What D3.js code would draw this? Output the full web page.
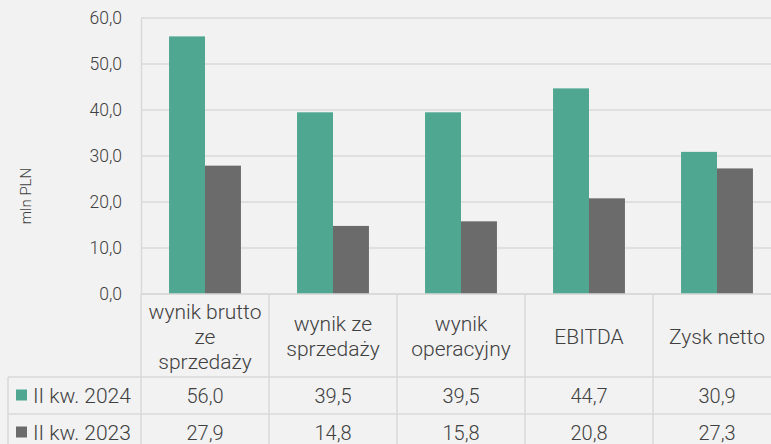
<!DOCTYPE html>
<html>
<head>
<meta charset="utf-8">
<script src="https://cdn.jsdelivr.net/npm/d3@7"></script>
<style>
    html, body { margin: 0; padding: 0; background: #f2f2f2; }
    svg { display: block; font-family: Roboto, "Open Sans", sans-serif; font-weight: 300; }
</style>
</head>
<body>
<div id="chart"></div>
<script>
// dane z wykresu
const categories = [
    ["wynik brutto", "ze", "sprzedaży"],
    ["wynik ze", "sprzedaży"],
    ["wynik", "operacyjny"],
    ["EBITDA"],
    ["Zysk netto"]
];
const seriesNames = ["II kw. 2024", "II kw. 2023"];
const values2024 = [56.0, 39.5, 39.5, 44.7, 30.9];
const values2023 = [27.9, 14.8, 15.8, 20.8, 27.3];
const yTicks = [0, 10, 20, 30, 40, 50, 60];
const colors = ["#4fa791", "#6b6b6b"];

const width = 771, height = 444;
const plot = { left: 141, right: 781, top: 18, bottom: 294 };
const headerH = 83, rowH = 37, legendLeft = 8;
const gridColor = "#d9d9d9", textColor = "#404040";

const fmt = v => v.toFixed(1).replace(".", ",");
const series = [values2024, values2023];
const keys = categories.map(c => c.join(" "));

const svg = d3.select("#chart").append("svg")
    .attr("width", width)
    .attr("height", height);

const x = d3.scaleBand().domain(keys).range([plot.left, plot.right]).padding(0);
const x1 = d3.scaleBand().domain(seriesNames).range([0, x.bandwidth()]).paddingInner(0).paddingOuter(0.78);
const y = d3.scaleLinear().domain([0, 60]).range([plot.bottom, plot.top]);

// linie siatki
svg.append("g")
    .selectAll("line")
    .data(yTicks)
    .enter()
    .append("line")
    .attr("x1", plot.left)
    .attr("x2", width)
    .attr("y1", d => y(d))
    .attr("y2", d => y(d))
    .attr("stroke", gridColor)
    .attr("stroke-width", 1.5);

// oś Y
const yAxis = svg.append("g")
    .attr("transform", `translate(${plot.left},0)`)
    .call(d3.axisLeft(y).tickValues(yTicks).tickFormat(fmt).tickSize(0).tickPadding(19));
yAxis.select(".domain")
    .attr("stroke", gridColor)
    .attr("stroke-width", 1.5);
yAxis.selectAll("text")
    .attr("fill", textColor)
    .style("font-size", "17.5px")
    .style("font-family", "Roboto, sans-serif")
    .style("font-weight", 300);

svg.append("text")
    .attr("transform", "translate(31,196) rotate(-90)")
    .attr("text-anchor", "middle")
    .attr("fill", textColor)
    .style("font-size", "15px")
    .text("mln PLN");

// słupki
const groups = svg.append("g")
    .selectAll("g")
    .data(keys)
    .enter()
    .append("g")
    .attr("transform", d => `translate(${x(d)},0)`);
groups.selectAll("rect")
    .data((d, i) => series.map((s, j) => ({ name: seriesNames[j], value: s[i], color: colors[j] })))
    .enter()
    .append("rect")
    .attr("x", d => x1(d.name))
    .attr("y", d => y(d.value))
    .attr("width", x1.bandwidth())
    .attr("height", d => y(0) - y(d.value))
    .attr("fill", d => d.color);

// tabela danych
const table = svg.append("g");
const tableTop = plot.bottom;
const rowTop = i => tableTop + headerH + i * rowH;
const tableBottom = rowTop(seriesNames.length);

// poziome linie
table.append("line")
    .attr("x1", plot.left).attr("x2", width)
    .attr("y1", tableTop).attr("y2", tableTop);
table.selectAll(".hline")
    .data(d3.range(seriesNames.length + 1))
    .enter()
    .append("line")
    .attr("class", "hline")
    .attr("x1", legendLeft).attr("x2", width)
    .attr("y1", d => rowTop(d)).attr("y2", d => rowTop(d));
// pionowe linie
table.selectAll(".vline")
    .data(keys.concat([null]))
    .enter()
    .append("line")
    .attr("class", "vline")
    .attr("x1", d => d === null ? plot.right : x(d))
    .attr("x2", d => d === null ? plot.right : x(d))
    .attr("y1", tableTop).attr("y2", tableBottom);
table.append("line")
    .attr("x1", legendLeft).attr("x2", legendLeft)
    .attr("y1", rowTop(0)).attr("y2", tableBottom);
table.selectAll("line")
    .attr("stroke", gridColor)
    .attr("stroke-width", 1.5);

// nagłówki kategorii
const lineH = 25;
table.selectAll(".head")
    .data(categories)
    .enter()
    .append("text")
    .attr("class", "head")
    .attr("text-anchor", "middle")
    .attr("fill", textColor)
    .style("font-size", "21px")
    .each(function (d, i) {
        const cx = x(keys[i]) + x.bandwidth() / 2;
        const cy = tableTop + headerH / 2 + 1 - (d.length - 1) * lineH / 2;
        d3.select(this).selectAll("tspan")
            .data(d)
            .enter()
            .append("tspan")
            .attr("x", cx)
            .attr("y", (t, k) => cy + k * lineH)
            .attr("dy", "0.35em")
            .text(t => t);
    });

// wiersze wartości
seriesNames.forEach((name, j) => {
    const cy = rowTop(j) + rowH / 2;
    table.append("rect")
        .attr("x", 16)
        .attr("y", cy - 6)
        .attr("width", 11)
        .attr("height", 11)
        .attr("fill", colors[j]);
    table.append("text")
        .attr("x", 33)
        .attr("y", cy)
        .attr("dy", "0.35em")
        .attr("fill", textColor)
        .style("font-size", "21px")
        .text(name);
    table.selectAll(".val" + j)
        .data(series[j])
        .enter()
        .append("text")
        .attr("class", "val" + j)
        .attr("x", (d, i) => x(keys[i]) + x.bandwidth() / 2)
        .attr("y", cy)
        .attr("dy", "0.35em")
        .attr("text-anchor", "middle")
        .attr("fill", textColor)
        .style("font-size", "20px")
        .text(fmt);
});
</script>
</body>
</html>
